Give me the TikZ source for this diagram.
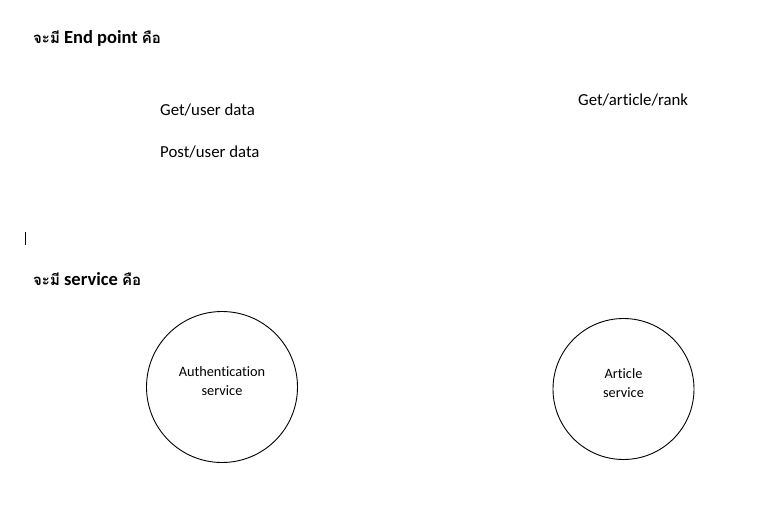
\documentclass[tikz,border=0pt]{standalone}
\usepackage{fontspec}
\setmainfont{Carlito}[Ligatures=NoCommon]
\newfontfamily\thaifont[Script=Thai]{Loma}
\begin{document}
\begin{tikzpicture}[x=1pt,y=-1pt,
  lbl/.style={anchor=west,inner sep=0pt,font=\fontsize{16.8}{20}\selectfont},
  head/.style={anchor=west,inner sep=0pt,font=\fontsize{18.5}{22}\selectfont\bfseries},
  svc/.style={circle,draw,line width=0.9pt,minimum size=#1,inner sep=0pt},
  svctext/.style={align=center,inner sep=0pt,font=\fontsize{14.3}{19}\selectfont}]
\useasboundingbox (0,0) rectangle (772,504);
\node[head] (h1) at (33,38) {{\thaifont\fontsize{15}{18}\selectfont จะมี} End point {\thaifont\fontsize{15}{18}\selectfont คือ}};
\node[lbl] (g1) at (160,110) {Get/user data};
\node[lbl] (p1) at (160,152) {Post/user data};
\node[lbl] (g2) at (578,100) {Get/article/rank};
\coordinate (c1) at (25,232);
\coordinate (c2) at (25,245);
\draw[line width=0.9pt] (c1) -- (c2);
\node[head] (h2) at (33,279) {{\thaifont\fontsize{15}{18}\selectfont จะมี} service {\thaifont\fontsize{15}{18}\selectfont คือ}};
\node[svc=151pt] (auth) at (222,387) {};
\node[svctext] (autht) at ([yshift=5.5pt]auth.center) {Authentication\\service};
\node[svc=141pt] (art) at (623.5,389) {};
\node[svctext] (artt) at ([yshift=5.5pt]art.center) {Article\\service};
\end{tikzpicture}
\end{document}
